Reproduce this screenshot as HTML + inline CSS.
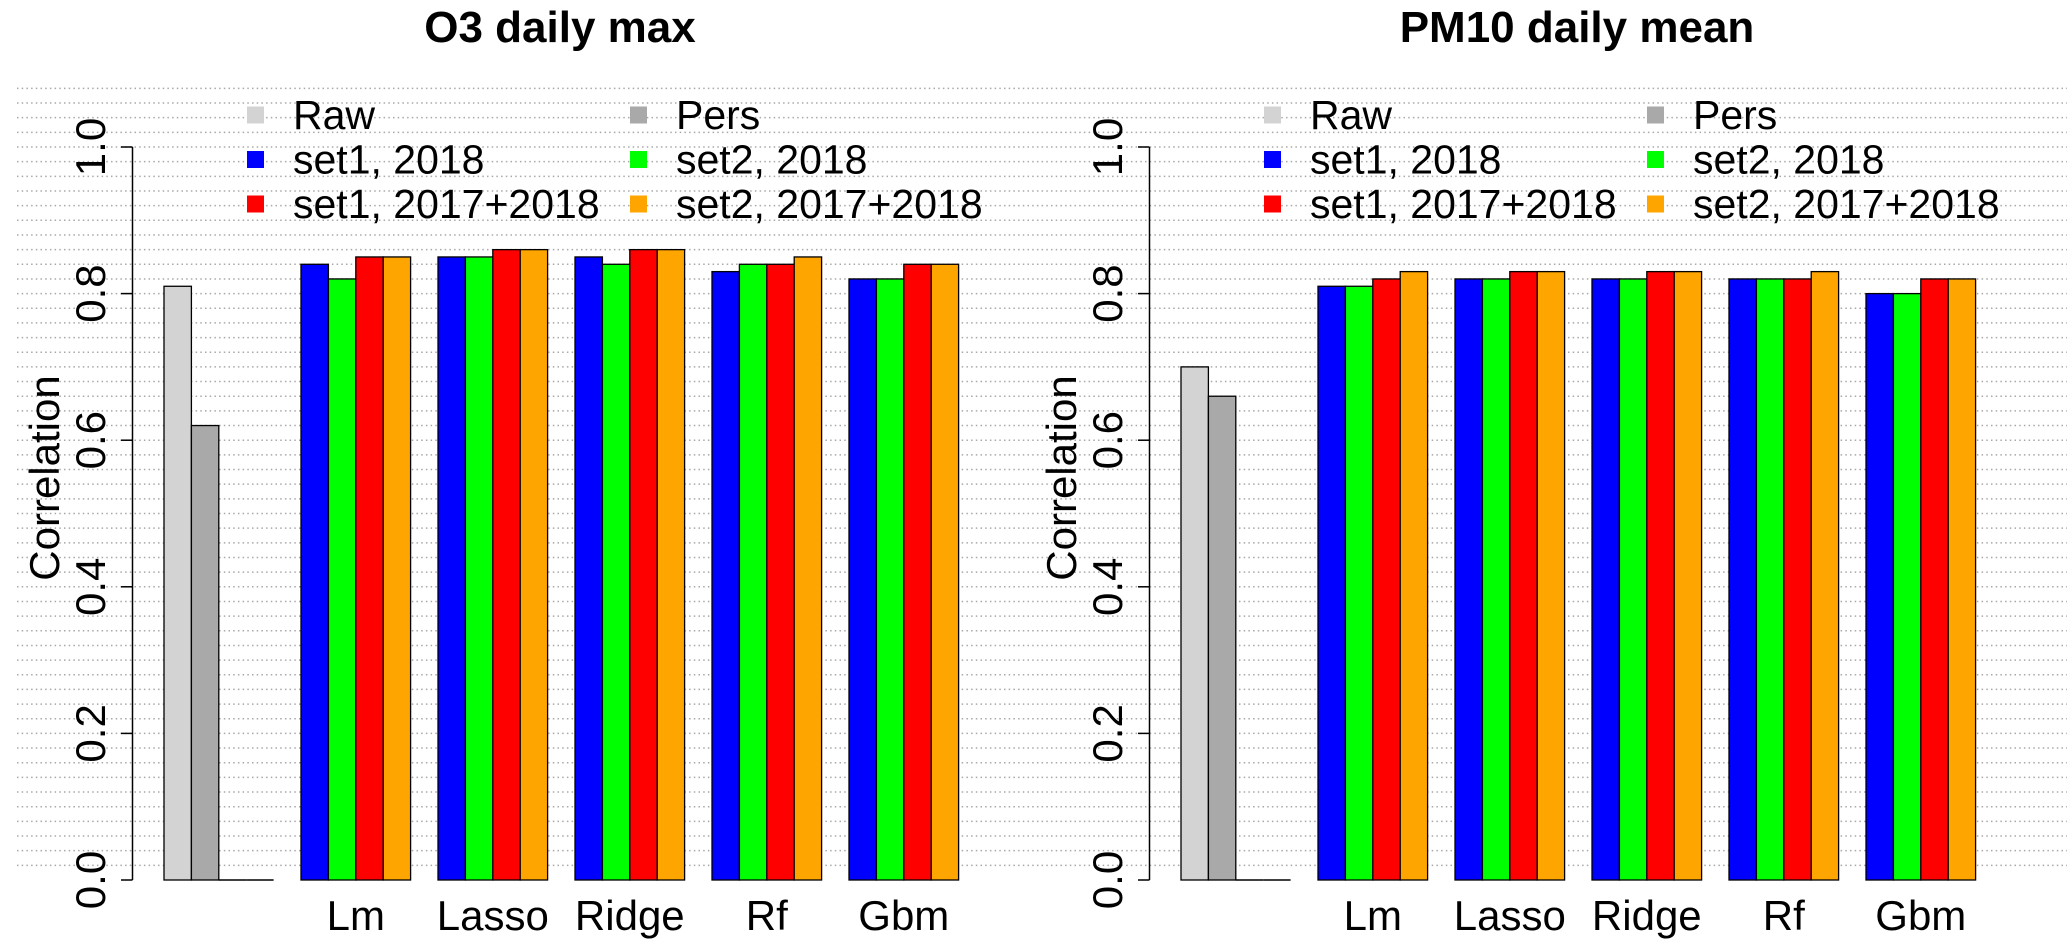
<!DOCTYPE html>
<html><head><meta charset="utf-8"><style>
html,body{margin:0;padding:0;background:#fff;}
svg{display:block;font-family:"Liberation Sans",Arial,sans-serif;}
</style></head><body>
<svg id="chart" width="2067" height="951" viewBox="0 0 2067 951" xmlns="http://www.w3.org/2000/svg">
<g id="grid"></g>
<g id="panels"></g>
</svg>
<script>
const panelTitles = ["O3 daily max", "PM10 daily mean"];
const categories = ["", "Lm", "Lasso", "Ridge", "Rf", "Gbm"];
const seriesNames = ["Raw", "Pers", "set1, 2018", "set2, 2018", "set1, 2017+2018", "set2, 2017+2018"];
const seriesColors = ["#d3d3d3", "#a9a9a9", "#0000ff", "#00ff00", "#ff0000", "#ffa500"];
const yTicks = [0, 0.2, 0.4, 0.6, 0.8, 1.0];
const yTickLabels = ["0.0", "0.2", "0.4", "0.6", "0.8", "1.0"];
const o3Values = [[0.81, 0.62, 0, 0], [0.84, 0.82, 0.85, 0.85], [0.85, 0.85, 0.86, 0.86], [0.85, 0.84, 0.86, 0.86], [0.83, 0.84, 0.84, 0.85], [0.82, 0.82, 0.84, 0.84]];
const pm10Values = [[0.70, 0.66, 0, 0], [0.81, 0.81, 0.82, 0.83], [0.82, 0.82, 0.83, 0.83], [0.82, 0.82, 0.83, 0.83], [0.82, 0.82, 0.82, 0.83], [0.80, 0.80, 0.82, 0.82]];
const panelValues = [o3Values, pm10Values];

const NS = "http://www.w3.org/2000/svg";
const Y0 = 880, YPX = 733;
const yScale = v => Y0 - v * YPX;
const BW = 27.4;
function el(tag, attrs, parent, text) {
  const e = document.createElementNS(NS, tag);
  for (const k in attrs) e.setAttribute(k, attrs[k]);
  if (text !== undefined) e.textContent = text;
  parent.appendChild(e);
  return e;
}
const grid = document.getElementById('grid');
for (let i = 1; i <= 54; i++) {
  const y = yScale(i * 0.02);
  const l = el('line', {x1: 17, x2: 2067, y1: y, y2: y, stroke: '#a8a8a8', 'stroke-width': 1.5, 'stroke-dasharray': '1.5,3.2'}, grid);
  
  
}
const panels = document.getElementById('panels');
panelValues.forEach((vals, p) => {
  const off = p * 1017;
  const g = el('g', {}, panels);
  
  
  const xScale = (gi, bi) => off + 164 + gi * 5 * BW + bi * BW;
  const t = el('text', {x: off + 560, y: 42, 'text-anchor': 'middle', 'font-size': 44, 'font-weight': 'bold'}, g, panelTitles[p]);
  
  
  vals.forEach((grp, gi) => {
    grp.forEach((v, bi) => {
      const x = xScale(gi, bi);
      const col = gi === 0 ? seriesColors[bi] : seriesColors[bi + 2];
      if (v <= 0) {
        const z = el('line', {x1: x, x2: x + BW, y1: Y0, y2: Y0, stroke: '#000', 'stroke-width': 1.5}, g);
        
        
        return;
      }
      const r = el('rect', {x: x, y: yScale(v), width: BW, height: Y0 - yScale(v), fill: col, stroke: '#000', 'stroke-width': 1.3}, g);
      
      
    });
    if (categories[gi]) {
      const lx = xScale(gi, 2);
      const ct = el('text', {x: lx, y: 930, 'text-anchor': 'middle', 'font-size': 42}, g, categories[gi]);
      
      
    }
  });
  const ax = el('line', {x1: off + 132.5, x2: off + 132.5, y1: yScale(1), y2: Y0, stroke: '#000', 'stroke-width': 1.5}, g);
  
  
  yTicks.forEach((v, i) => {
    const y = yScale(v);
    const tk = el('line', {x1: off + 121, x2: off + 132.5, y1: y, y2: y, stroke: '#000', 'stroke-width': 1.5}, g);
    
    
    const tl = el('text', {x: 0, y: 0, 'text-anchor': 'middle', 'font-size': 42, transform: `translate(${off + 105},${y}) rotate(-90)`}, g, yTickLabels[i]);
    
    
  });
  const yt = el('text', {x: 0, y: 0, 'text-anchor': 'middle', 'font-size': 42, transform: `translate(${off + 59},478) rotate(-90)`}, g, 'Correlation');
  
  
  const lg = el('g', {}, g);
  
  
  seriesNames.forEach((n, i) => {
    const col = i % 2, row = Math.floor(i / 2);
    const sx = off + (col === 0 ? 247 : 630);
    const cy = 115 + row * 44.5;
    const e = el('g', {}, lg);
    
    
    el('rect', {x: sx, y: cy - 8.5, width: 17, height: 17, fill: seriesColors[i]}, e);
    el('text', {x: sx + 46, y: cy + 14, 'font-size': 41}, e, n);
  });
});
</script>
</body></html>
